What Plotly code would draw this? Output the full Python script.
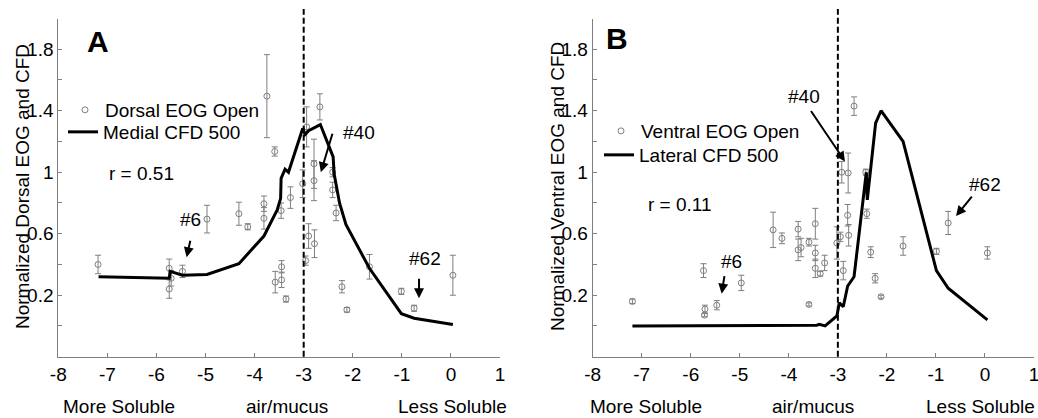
import plotly.graph_objects as go

# ---------------- data ----------------
dorsal_x = [-7.19, -5.74, -5.70, -5.74, -5.47, -4.97, -4.32, -4.14, -3.81, -3.81,
            -3.46, -3.27, -3.58, -3.45, -3.45, -3.36, -2.96, -2.90, -2.78, -2.41,
            -2.34, -2.22, -2.12, -1.66, -1.01, -0.75, 0.04, -3.75, -3.59, -2.94,
            -2.67, -2.79, -2.79, -3.02, -2.41]
dorsal_y = [0.40, 0.375, 0.31, 0.24, 0.355, 0.695, 0.73, 0.645, 0.795, 0.70,
            0.75, 0.835, 0.285, 0.385, 0.30, 0.175, 0.425, 0.585, 0.535, 0.885,
            0.735, 0.255, 0.105, 0.385, 0.225, 0.115, 0.33, 1.495, 1.135, 1.295,
            1.425, 1.055, 0.945, 0.925, 1.0]
dorsal_err = [0.06, 0.06, 0.05, 0.06, 0.04, 0.09, 0.075, 0.02, 0.05, 0.07,
              0.05, 0.07, 0.07, 0.04, 0.05, 0.02, 0.03, 0.08, 0.09, 0.05,
              0.05, 0.04, 0.015, 0.08, 0.02, 0.02, 0.13, 0.27, 0.03, 0.13,
              0.085, 0.16, 0.13, 0.09, 0.03]

medial_cfd_x = [-7.18, -5.74, -5.72, -5.47, -4.97, -4.32, -3.81, -3.75, -3.54, -3.47,
                -3.46, -3.38, -3.31, -3.02, -2.97, -2.90, -2.80, -2.66, -2.40, -2.38,
                -2.27, -2.14, -1.66, -1.01, -0.75, 0.04]
medial_cfd_y = [0.32, 0.31, 0.355, 0.33, 0.335, 0.405, 0.585, 0.625, 0.755, 0.83,
                0.96, 1.02, 1.0, 1.285, 1.245, 1.27, 1.285, 1.31, 1.10, 0.99,
                0.80, 0.66, 0.375, 0.08, 0.05, 0.01]

ventral_x = [-7.19, -5.74, -5.71, -5.72, -5.47, -4.97, -4.32, -4.14, -3.81, -3.81,
             -3.75, -3.59, -3.59, -3.46, -3.46, -3.46, -3.36, -3.27, -3.02, -2.95,
             -2.89, -2.80, -2.78, -2.41, -2.33, -2.24, -2.12, -1.67, -0.99, -0.75,
             0.05, -2.67, -2.92, -2.79, -2.43]
ventral_y = [0.16, 0.36, 0.11, 0.07, 0.135, 0.28, 0.625, 0.57, 0.63, 0.495,
             0.51, 0.545, 0.14, 0.665, 0.475, 0.375, 0.34, 0.41, 0.54, 0.58,
             0.36, 0.72, 0.59, 0.73, 0.48, 0.31, 0.19, 0.52, 0.485, 0.67,
             0.475, 1.43, 1.0, 0.995, 1.0]
ventral_err = [0.015, 0.045, 0.025, 0.01, 0.03, 0.05, 0.115, 0.035, 0.05, 0.07,
               0.06, 0.025, 0.01, 0.10, 0.05, 0.06, 0.015, 0.05, 0.105, 0.03,
               0.06, 0.07, 0.07, 0.03, 0.035, 0.03, 0.01, 0.06, 0.02, 0.075,
               0.04, 0.06, 0.07, 0.13, 0.02]

lateral_cfd_x = [-7.19, -3.43, -3.38, -3.26, -3.02, -2.97, -2.89, -2.80, -2.67, -2.42,
                 -2.40, -2.23, -2.12, -1.67, -0.99, -0.75, 0.05]
lateral_cfd_y = [0.0, 0.005, 0.01, 0.0, 0.065, 0.15, 0.125, 0.26, 0.32, 1.0,
                 0.82, 1.32, 1.40, 1.20, 0.36, 0.245, 0.04]

x_ticks = [-8, -7, -6, -5, -4, -3, -2, -1, 0, 1]
x_ticktext = ["-8", "-7", "-6", "-5", "-4", "-3", "-2", "-1", "0", "1"]
y_ticks = [0, 0.2, 0.4, 0.6, 0.8, 1.0, 1.2, 1.4, 1.6, 1.8]
y_ticktext = ["", "0.2", "", "0.6", "", "1", "", "1.4", "", "1.8"]

# arrow annotations: (label, head_x, head_y, ax, ay, text_x, text_y)
arrows_A = [("#6", -5.385, 0.447, 4, -18, -5.30, 0.69),
            ("#62", -0.65, 0.18, 0, -21, -0.53, 0.44),
            ("#40", -2.65, 1.00, 12, -40, -1.88, 1.26)]
arrows_B = [("#40", -2.855, 1.07, -35, -52, -3.69, 1.495),
            ("#6", -5.37, 0.21, 3, -19, -5.17, 0.42),
            ("#62", -0.59, 0.715, 17, -21, 0.0, 0.92)]

# ---------------- figure ----------------
W, H = 1038, 418
FONT = "Liberation Sans, Arial, sans-serif"
GRAY = "#7f7f7f"


def px2x(px):
    return px / W


def py2y(py):
    return 1 - py / H


fig = go.Figure()

fig.add_trace(go.Scatter(
    x=dorsal_x, y=dorsal_y, mode="markers", name="Dorsal EOG Open",
    marker=dict(symbol="circle-open", size=6, color=GRAY, line=dict(width=1)),
    error_y=dict(type="data", array=dorsal_err, color=GRAY, thickness=1, width=3),
    xaxis="x", yaxis="y", legend="legend"))
fig.add_trace(go.Scatter(
    x=medial_cfd_x, y=medial_cfd_y, mode="lines", name="Medial CFD 500",
    line=dict(color="black", width=3),
    xaxis="x", yaxis="y", legend="legend2"))

fig.add_trace(go.Scatter(
    x=ventral_x, y=ventral_y, mode="markers", name="Ventral EOG Open",
    marker=dict(symbol="circle-open", size=6, color=GRAY, line=dict(width=1)),
    error_y=dict(type="data", array=ventral_err, color=GRAY, thickness=1, width=3),
    xaxis="x2", yaxis="y2", legend="legend3"))
fig.add_trace(go.Scatter(
    x=lateral_cfd_x, y=lateral_cfd_y, mode="lines", name="Lateral CFD 500",
    line=dict(color="black", width=3),
    xaxis="x2", yaxis="y2", legend="legend4"))

ydom = [py2y(356.7), py2y(18.5)]
xcommon = dict(range=[-8, 1], tickvals=x_ticks, ticktext=x_ticktext,
               ticks="inside", ticklen=4, automargin=False,
               ticklabeloverflow="allow",
               tickcolor=GRAY, showline=True, linecolor=GRAY, linewidth=1,
               showgrid=False, zeroline=False,
               tickfont=dict(size=19, color="black", family=FONT))
ycommon = dict(range=[-0.2, 2.0], tickvals=y_ticks, ticktext=y_ticktext,
               ticks="inside", ticklen=4, tickcolor=GRAY, showline=True,
               automargin=False,
               linecolor=GRAY, linewidth=1, showgrid=False, zeroline=False,
               tickfont=dict(size=19, color="black", family=FONT), domain=ydom)

legend_common = dict(font=dict(size=19, family=FONT, color="black"),
                     bgcolor="rgba(0,0,0,0)", borderwidth=0,
                     xanchor="left", yanchor="top", tracegroupgap=0)

fig.update_layout(
    width=W, height=H,
    margin=dict(l=0, r=0, t=0, b=0, autoexpand=False),
    paper_bgcolor="white", plot_bgcolor="white",
    font=dict(family=FONT, size=19, color="black"),
    xaxis=dict(domain=[px2x(58.3), px2x(500)], anchor="y", **xcommon),
    yaxis=dict(anchor="x", **ycommon),
    xaxis2=dict(domain=[px2x(592.7), px2x(1034)], anchor="y2", **xcommon),
    yaxis2=dict(anchor="x2", **ycommon),
    legend=dict(x=px2x(65), y=py2y(91), **legend_common),
    legend2=dict(x=px2x(63), y=py2y(113), **legend_common),
    legend3=dict(x=px2x(601), y=py2y(112), **legend_common),
    legend4=dict(x=px2x(599), y=py2y(136), **legend_common),
    showlegend=True,
)

dash_style = dict(color="black", width=2, dash="6px,3px")
fig.add_shape(type="line", xref="x", yref="paper", x0=-3, x1=-3,
              y0=py2y(356.7), y1=py2y(9), line=dash_style)
fig.add_shape(type="line", xref="x2", yref="paper", x0=-3, x1=-3,
              y0=py2y(356.7), y1=py2y(9), line=dash_style)


def paper_text(txt, cx, cy, size=19, anchor="center", angle=0):
    return dict(text=txt, x=px2x(cx), y=py2y(cy), xref="paper", yref="paper",
                xanchor=anchor, yanchor="middle", textangle=angle,
                showarrow=False, font=dict(size=size, family=FONT, color="black"))


ann = []
# panel letters
ann.append(paper_text("<b>A</b>", 98, 42, size=30))
ann.append(paper_text("<b>B</b>", 617, 39, size=30))
# correlation
ann.append(paper_text("r = 0.51", 107, 173, anchor="left"))
ann.append(paper_text("r = 0.11", 646, 205, anchor="left"))
# y titles
ann.append(paper_text("Normalized Dorsal EOG and CFD", 22, 187, angle=-90))
ann.append(paper_text("Normalized Ventral EOG and CFD", 557, 187, angle=-90))
# x labels
for txt, cx in [("More Soluble", 119), ("air/mucus", 287), ("Less Soluble", 452),
                ("More Soluble", 646), ("air/mucus", 813), ("Less Soluble", 980)]:
    ann.append(paper_text(txt, cx, 406))
# arrows
for arrows, xr, yr in [(arrows_A, "x", "y"), (arrows_B, "x2", "y2")]:
    for label, hx, hy, axp, ayp, tx, ty in arrows:
        ann.append(dict(text="", x=hx, y=hy, xref=xr, yref=yr, showarrow=True,
                        ax=axp, ay=ayp, arrowhead=2, arrowsize=1, arrowwidth=2,
                        arrowcolor="black", standoff=0))
        ann.append(dict(text=label, x=tx, y=ty, xref=xr, yref=yr, showarrow=False,
                        xanchor="center", yanchor="middle",
                        font=dict(size=19, family=FONT, color="black")))
fig.update_layout(annotations=ann)

fig.write_html("out.html", config={"displayModeBar": False},
               post_script="document.body.style.margin='0';document.body.style.padding='0';")
